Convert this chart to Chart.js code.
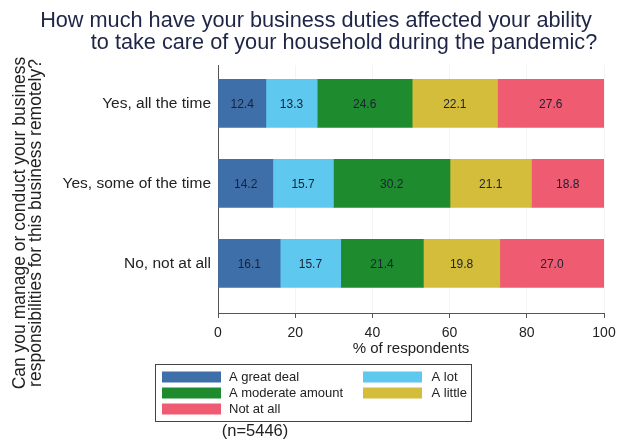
<!DOCTYPE html>
<html>
<head>
<meta charset="utf-8">
<script src="https://cdn.jsdelivr.net/npm/chart.js@4/dist/chart.umd.min.js"></script>
<style>
  html, body { margin: 0; padding: 0; background: #ffffff; }
  #wrap { width: 629px; height: 443px; position: relative; }
</style>
</head>
<body>
<div id="wrap"><canvas id="c" width="629" height="443"></canvas></div>
<script>
const categories = ["Yes, all the time", "Yes, some of the time", "No, not at all"];
const seriesNames = ["A great deal", "A lot", "A moderate amount", "A little", "Not at all"];
const greatDeal = [12.4, 14.2, 16.1];
const aLot = [13.3, 15.7, 15.7];
const moderate = [24.6, 30.2, 21.4];
const aLittle = [22.1, 21.1, 19.8];
const notAtAll = [27.6, 18.8, 27.0];
const xTicks = [0, 20, 40, 60, 80, 100];
const seriesColors = ["#3f6fa9", "#5ec8ee", "#1f8b2f", "#d3bd3b", "#ef5b70"];
const titleLines = ["How much have your business duties affected your ability", "to take care of your household during the pandemic?"];
const yTitleLines = ["Can you manage or conduct your business", "responsibilities for this business remotely?"];
const xTitle = "% of respondents";
const note = "(n=5446)";

const seriesValues = [greatDeal, aLot, moderate, aLittle, notAtAll];
const FONT = '"Liberation Sans", Arial, sans-serif';

const datasets = seriesNames.map((name, s) => ({
  label: name,
  data: seriesValues[s].map((v, i) => ({ x: v, y: i })),
  backgroundColor: seriesColors[s],
  borderWidth: 0,
  barThickness: 48
}));

const valueLabels = {
  id: 'valueLabels',
  afterDatasetsDraw(chart) {
    const ctx = chart.ctx;
    ctx.save();
    ctx.font = '12px ' + FONT;
    ctx.fillStyle = '#1b2133';
    ctx.textAlign = 'center';
    ctx.textBaseline = 'middle';
    chart.data.datasets.forEach((ds, di) => {
      const meta = chart.getDatasetMeta(di);
      meta.data.forEach((el, i) => {
        const p = el.getCenterPoint();
        ctx.fillText(ds.data[i].x.toFixed(1), p.x, p.y + 1);
      });
    });
    ctx.restore();
  }
};

const decorations = {
  id: 'decorations',
  afterDraw(chart) {
    const ctx = chart.ctx;
    ctx.save();
    // Title
    ctx.font = '21.7px ' + FONT;
    ctx.fillStyle = '#1e2546';
    ctx.textAlign = 'center';
    ctx.textBaseline = 'alphabetic';
    ctx.fillText(titleLines[0], 316, 27);
    ctx.fillText(titleLines[1], 344, 48.5);
    // Y axis title (rotated)
    ctx.font = '17.5px ' + FONT;
    ctx.fillStyle = '#222222';
    ctx.textBaseline = 'middle';
    [20.5, 36.5].forEach((x, k) => {
      ctx.save();
      ctx.translate(x, 223);
      ctx.rotate(-Math.PI / 2);
      ctx.fillText(yTitleLines[k], 0, 0);
      ctx.restore();
    });
    // Legend
    ctx.strokeStyle = '#444444';
    ctx.lineWidth = 1;
    ctx.strokeRect(155.5, 364.5, 316, 57);
    ctx.font = '13px ' + FONT;
    ctx.textAlign = 'left';
    ctx.textBaseline = 'middle';
    const colX = [162, 363];
    const textX = [229, 431.5];
    const rowY = [371.5, 387.5, 403.5];
    chart.data.datasets.forEach((ds, i) => {
      const col = i % 2, row = Math.floor(i / 2);
      ctx.fillStyle = ds.backgroundColor;
      ctx.fillRect(colX[col], rowY[row], 59, 11);
      ctx.fillStyle = '#222222';
      ctx.fillText(ds.label, textX[col], rowY[row] + 6);
    });
    // Note
    ctx.font = '16.5px ' + FONT;
    ctx.textAlign = 'center';
    ctx.textBaseline = 'alphabetic';
    ctx.fillText(note, 255, 436);
    ctx.restore();
  }
};

new Chart(document.getElementById('c'), {
  type: 'bar',
  data: { datasets },
  plugins: [valueLabels, decorations],
  options: {
    indexAxis: 'y',
    responsive: false,
    animation: false,
    devicePixelRatio: 1,
    layout: { padding: { top: 65, right: 25, bottom: 85.5, left: 0 } },
    plugins: {
      legend: { display: false },
      title: { display: false },
      tooltip: { enabled: false }
    },
    scales: {
      x: {
        type: 'linear',
        stacked: true,
        min: 0,
        max: 100,
        afterBuildTicks: (scale) => { scale.ticks = xTicks.map(v => ({ value: v })); },
        afterFit: (scale) => { scale.height = 44.5; },
        ticks: {
          font: { size: 14, family: FONT },
          color: '#222222',
          padding: 7
        },
        grid: {
          color: '#f4f4f4',
          tickColor: '#555555',
          tickLength: 5,
          drawTicks: true
        },
        border: { display: true, color: '#555555', width: 1 },
        title: {
          display: true,
          text: xTitle,
          font: { size: 15, family: FONT },
          color: '#222222',
          padding: 0
        }
      },
      y: {
        type: 'linear',
        stacked: true,
        reverse: true,
        offset: false,
        min: -0.479,
        max: 2.62,
        afterBuildTicks: (scale) => { scale.ticks = categories.map((c, i) => ({ value: i })); },
        afterFit: (scale) => { scale.width = 218; },
        ticks: {
          autoSkip: false,
          font: { size: 15.5, family: FONT },
          color: '#222222',
          padding: 7,
          callback: (v) => categories[v]
        },
        grid: { display: false, drawTicks: false, offset: false },
        border: { display: true, color: '#555555', width: 1 }
      }
    }
  }
});
</script>
</body>
</html>
